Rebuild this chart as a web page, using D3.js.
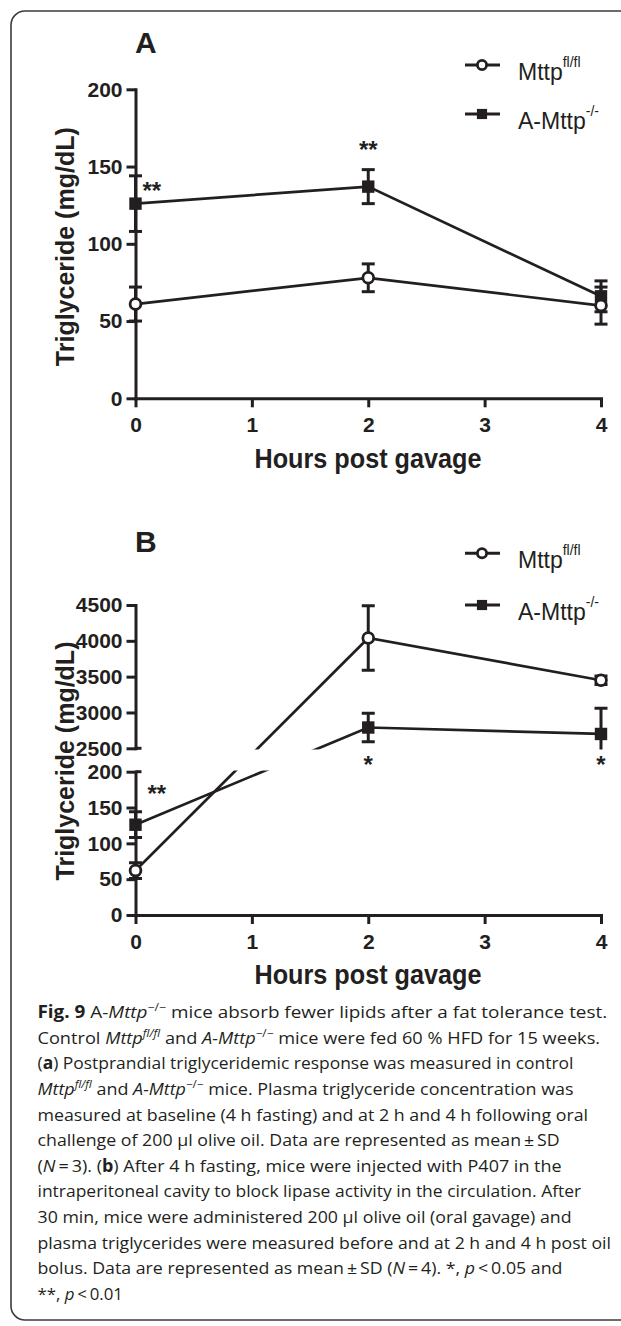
<!DOCTYPE html>
<html><head><meta charset="utf-8">
<script src="https://cdn.jsdelivr.net/npm/d3@7"></script>
<style>body{margin:0;background:#fff;} svg{display:block;}</style>
</head><body>
<svg id="c" width="621" height="1326"></svg>
<script>
// ---------- data ----------
const hours = [0, 2, 4];
const xTickValues = [0, 1, 2, 3, 4];
const seriesNames = ["Mttp", "A-Mttp"];
const seriesSup = ["fl/fl", "-/-"];
const xTitle = "Hours post gavage";
const yTitle = "Triglyceride (mg/dL)";

// Panel A
const ctrlA = [61, 78, 60];
const ctrlAsd = [11, 9, 12];
const koA = [126, 137, 66];
const koAsd = [18, 11, 10];
const sigA = ["**", "**", ""];
const yTicksA = [0, 50, 100, 150, 200];

// Panel B (broken axis)
const ctrlB = [62, 4040, 3450];
const ctrlBsd = [11, 450, 60];
const koB = [126, 2790, 2700];
const koBsd = [18, 200, 360];
const sigB = ["**", "*", "*"];
const yTicksBLow = [0, 50, 100, 150, 200];
const yTicksBHigh = [2500, 3000, 3500, 4000, 4500];

// caption
const captionLines = [
  [["b","Fig. 9"],["n"," A-"],["i","Mttp"],["sup","\u2212/\u2212"],["n"," mice absorb fewer lipids after a fat tolerance test."]],
  [["n","Control "],["i","Mttp"],["isup","fl/fl"],["n"," and "],["i","A-Mttp"],["sup","\u2212/\u2212"],["n"," mice were fed 60 % HFD for 15 weeks."]],
  [["n","("],["b","a"],["n",") Postprandial triglyceridemic response was measured in control"]],
  [["i","Mttp"],["isup","fl/fl"],["n"," and "],["i","A-Mttp"],["sup","\u2212/\u2212"],["n"," mice. Plasma triglyceride concentration was"]],
  [["n","measured at baseline (4 h fasting) and at 2 h and 4 h following oral"]],
  [["n","challenge of 200 \u03bcl olive oil. Data are represented as mean\u2009\u00b1\u2009SD"]],
  [["n","("],["i","N"],["n","\u2009=\u20093). ("],["b","b"],["n",") After 4 h fasting, mice were injected with P407 in the"]],
  [["n","intraperitoneal cavity to block lipase activity in the circulation. After"]],
  [["n","30 min, mice were administered 200 \u03bcl olive oil (oral gavage) and"]],
  [["n","plasma triglycerides were measured before and at 2 h and 4 h post oil"]],
  [["n","bolus. Data are represented as mean\u2009\u00b1\u2009SD ("],["i","N"],["n","\u2009=\u20094). *, "],["i","p"],["n","\u2009<\u20090.05 and"]],
  [["n","**, "],["i","p"],["n","\u2009<\u20090.01"]]
];
// relative length of each caption line (first line = 1)
const captionLineRatio = [1, 0.9875, 0.941, 0.941, 0.967, 0.917, 0.92, 0.955, 0.938, 1.007, 0.922, 0.15];

// ---------- drawing ----------
const svg = d3.select("#c");
const INK = "#231f20";
const FONT = "'Liberation Sans', Arial, Helvetica, sans-serif";
const fmt = d3.format("d");

svg.append("rect").attr("x", 11).attr("y", 11).attr("width", 680).attr("height", 1309)
  .attr("rx", 14).attr("fill", "none").attr("stroke", "#3c3c3c").attr("stroke-width", 1.6);

function styleAxis(g) {
  g.select(".domain").attr("stroke", INK).attr("stroke-width", 3).attr("stroke-linecap", "square").attr("fill", "none");
  g.selectAll(".tick line").attr("stroke", INK).attr("stroke-width", 3);
  g.selectAll(".tick text").attr("fill", INK).attr("font-family", FONT)
    .attr("font-weight", "bold").attr("font-size", 21);
}

function drawSeries(g, x, yf, vals, sds, marker) {
  const pts = hours.map((h, i) => ({
    x: x(h), y: yf(vals[i]), lo: yf(vals[i] - sds[i]), hi: yf(vals[i] + sds[i])
  }));
  g.append("path").datum(pts)
    .attr("d", d3.line().x(d => d.x).y(d => d.y))
    .attr("fill", "none").attr("stroke", INK).attr("stroke-width", 2.7);
  const eb = g.append("g").attr("stroke", INK).attr("stroke-width", 3);
  pts.forEach(p => {
    eb.append("line").attr("x1", p.x).attr("x2", p.x).attr("y1", p.lo).attr("y2", p.hi);
    eb.append("line").attr("x1", p.x - 6.5).attr("x2", p.x + 6.5).attr("y1", p.lo).attr("y2", p.lo);
    eb.append("line").attr("x1", p.x - 6.5).attr("x2", p.x + 6.5).attr("y1", p.hi).attr("y2", p.hi);
  });
  pts.forEach(p => drawMarker(g, p.x, p.y, marker, 1));
}

function drawMarker(g, cx, cy, marker, s) {
  if (marker === "circle") {
    g.append("circle").attr("cx", cx).attr("cy", cy).attr("r", 5.4 * s)
      .attr("fill", "#fff").attr("stroke", INK).attr("stroke-width", 2.8);
  } else {
    g.append("rect").attr("x", cx - 6.2 * s).attr("y", cy - 6.2 * s)
      .attr("width", 12.4 * s).attr("height", 12.4 * s).attr("fill", INK);
  }
}

function drawLegend(cy1, cy2) {
  const g = svg.append("g");
  [[cy1, "circle", 0], [cy2, "square", 1]].forEach(([cy, m, i]) => {
    g.append("line").attr("x1", 465).attr("x2", 500).attr("y1", cy).attr("y2", cy)
      .attr("stroke", INK).attr("stroke-width", 3);
    drawMarker(g, 482, cy, m, m === "circle" ? 0.85 : 0.82);
    const t = g.append("text").attr("x", 518).attr("y", cy + 15)
      .attr("font-family", FONT).attr("font-size", 23).attr("fill", INK);
    t.append("tspan").text(seriesNames[i]);
    t.append("tspan").attr("dy", -13).attr("font-size", 14).text(seriesSup[i]);
  });
}

function titles(letter, letterY, xAxisY, yMid) {
  svg.append("text").attr("x", 135).attr("y", letterY).attr("font-family", FONT)
    .attr("font-weight", "bold").attr("font-size", 30).attr("fill", INK).text(letter);
  svg.append("text").attr("x", 368).attr("y", xAxisY + 69.3).attr("text-anchor", "middle")
    .attr("font-family", FONT).attr("font-weight", "bold").attr("font-size", 27)
    .attr("textLength", 227).attr("lengthAdjust", "spacingAndGlyphs")
    .attr("fill", INK).text(xTitle);
  svg.append("text").attr("transform", `translate(73.5,${yMid}) rotate(-90)`)
    .attr("text-anchor", "middle").attr("font-family", FONT).attr("font-weight", "bold")
    .attr("font-size", 25).attr("fill", INK).text(yTitle);
}

function sig(g, txt, x, y, anchor) {
  if (!txt) return;
  g.append("text").attr("x", x).attr("y", y).attr("text-anchor", anchor)
    .attr("font-family", FONT).attr("font-weight", "bold").attr("font-size", 24)
    .attr("fill", INK).text(txt);
}

// ----- Panel A -----
const xA = d3.scaleLinear().domain([0, 4]).range([135.5, 601]);
const yA = d3.scaleLinear().domain([0, 200]).range([398.3, 89.3]);
const gA = svg.append("g");
gA.append("g").attr("transform", `translate(0,${yA(0)})`)
  .call(d3.axisBottom(xA).tickValues(xTickValues).tickFormat(fmt).tickSize(9).tickPadding(10).tickSizeOuter(0))
  .call(styleAxis);
gA.append("g").attr("transform", `translate(${xA(0)},0)`)
  .call(d3.axisLeft(yA).tickValues(yTicksA).tickFormat(fmt).tickSize(9).tickPadding(4).tickSizeOuter(0))
  .call(styleAxis);
drawSeries(gA, xA, yA, koA, koAsd, "square");
drawSeries(gA, xA, yA, ctrlA, ctrlAsd, "circle");
sig(gA, sigA[0], xA(hours[0]) + 7, yA(137) + 12, "start");
sig(gA, sigA[1], xA(hours[1]), yA(163) + 12, "middle");
titles("A", 53.3, yA(0), 246.7);
drawLegend(65, 114);

// ----- Panel B -----
const xB = d3.scaleLinear().domain([0, 4]).range([135.5, 601]);
const yBot = d3.scaleLinear().domain([0, 200]).range([915, 771.7]);
const yTop = d3.scaleLinear().domain([2500, 4500]).range([748.3, 605]);
const yB = v => (v > 1000 ? yTop(v) : yBot(v));
const gB = svg.append("g");
gB.append("g").attr("transform", `translate(0,${yBot(0)})`)
  .call(d3.axisBottom(xB).tickValues(xTickValues).tickFormat(fmt).tickSize(9).tickPadding(10).tickSizeOuter(0))
  .call(styleAxis);
gB.append("g").attr("transform", `translate(${xB(0)},0)`)
  .call(d3.axisLeft(yBot).tickValues(yTicksBLow).tickFormat(fmt).tickSize(9).tickPadding(4).tickSizeOuter(0))
  .call(styleAxis);
gB.append("g").attr("transform", `translate(${xB(0)},0)`)
  .call(d3.axisLeft(yTop).tickValues(yTicksBHigh).tickFormat(fmt).tickSize(9).tickPadding(4).tickSizeOuter(0))
  .call(styleAxis);
// break caps
[yTop(2500), yBot(200)].forEach(y => {
  gB.append("line").attr("x1", xB(0)).attr("x2", xB(0) + 6).attr("y1", y).attr("y2", y)
    .attr("stroke", INK).attr("stroke-width", 3);
});
const clip = svg.append("defs").append("clipPath").attr("id", "brk");
clip.append("rect").attr("x", 0).attr("y", 0).attr("width", 621).attr("height", yTop(2500) + 1.2);
clip.append("rect").attr("x", 0).attr("y", yBot(200) - 1.2).attr("width", 621).attr("height", 300);
const gS = gB.append("g").attr("clip-path", "url(#brk)");
drawSeries(gS, xB, yB, koB, koBsd, "square");
drawSeries(gS, xB, yB, ctrlB, ctrlBsd, "circle");
sig(gB, sigB[0], xB(hours[0]) + 12, yBot(174.5) + 12, "start");
sig(gB, sigB[1], xB(hours[1]), yTop(2500) + 25, "middle");
sig(gB, sigB[2], xB(hours[2]), yTop(2500) + 25, "middle");
titles("B", 552, yBot(0), 761);
drawLegend(553.3, 605);

// ----- caption -----
const cap = svg.append("g");
const capFont = "'Open Sans', 'Noto Sans', sans-serif";
const capLeft = 37.5, firstLineWidth = 570;
captionLines.forEach((segs, li) => {
  const lg = cap.append("g");
  const txt = lg.append("text").attr("font-family", capFont)
    .attr("font-size", 17).attr("fill", INK)
    .attr("x", capLeft).attr("y", 1018.3 + li * 25.6);
  let shifted = 0;
  segs.forEach(([st, s]) => {
    const t = txt.append("tspan").text(s);
    if (st === "b") t.attr("font-weight", "bold");
    if (st === "i" || st === "isup") t.attr("font-style", "italic");
    if (st === "sup" || st === "isup") {
      t.attr("font-size", 11).attr("dy", -7 - shifted); shifted = -7;
    } else if (shifted !== 0) {
      t.attr("dy", -shifted); shifted = 0;
    }
  });
  const w = txt.node().getBBox().width;
  const s = (firstLineWidth * captionLineRatio[li]) / w;
  lg.attr("transform", `translate(${capLeft * (1 - s)},0) scale(${s},1)`);
});
</script>
</body></html>
